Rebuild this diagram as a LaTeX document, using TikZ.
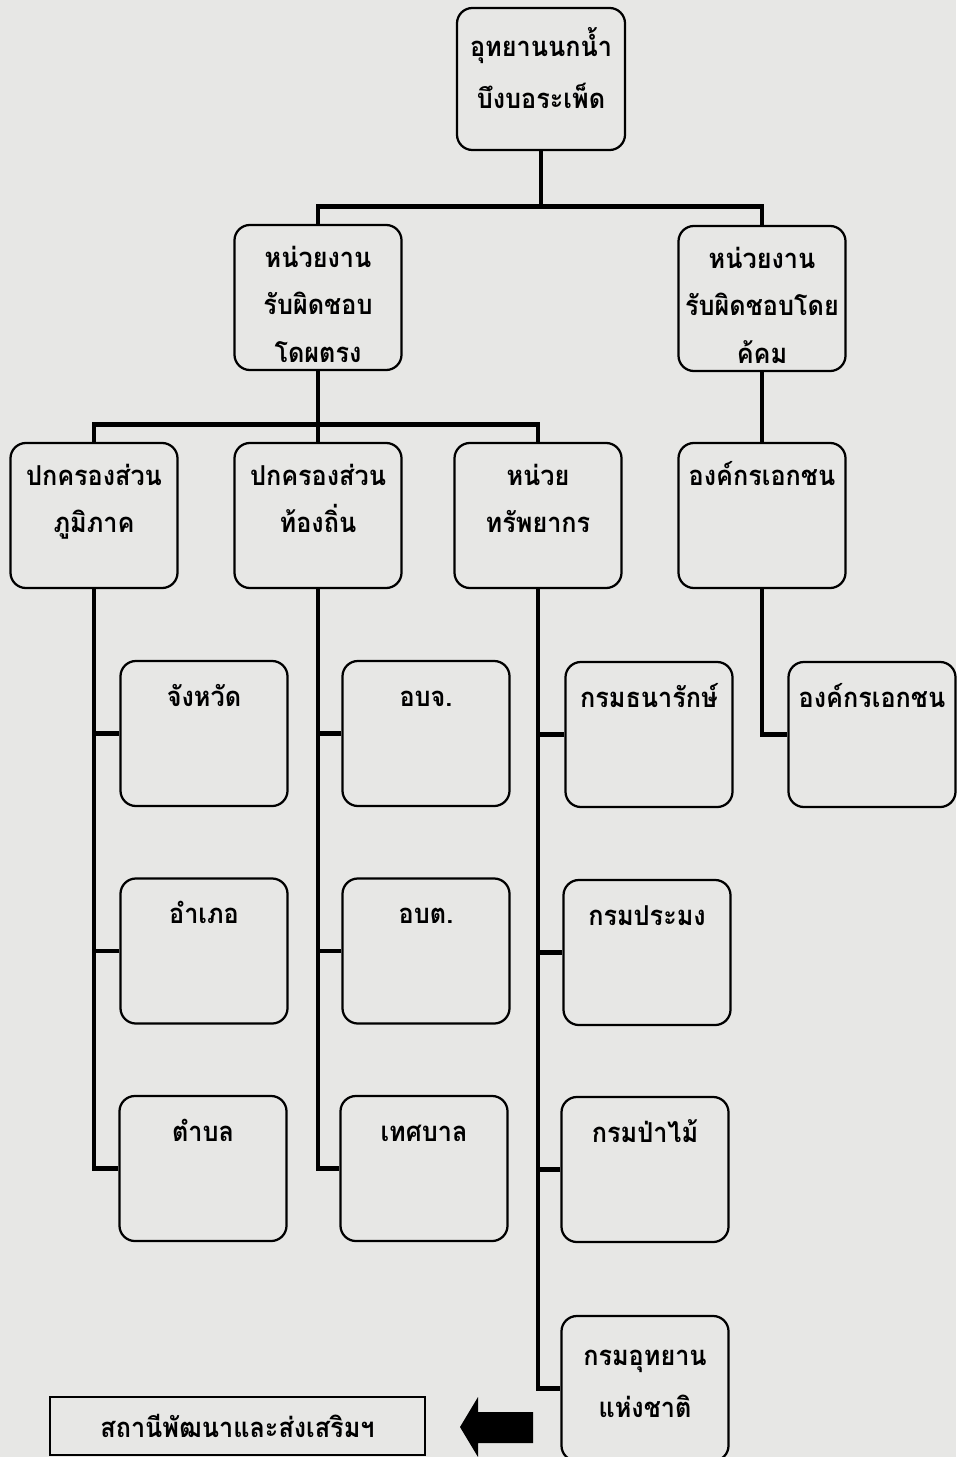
\documentclass[tikz,border=0pt]{standalone}
\usepackage{fontspec}
\setmainfont{Loma}[Script=Thai, FakeStretch=0.92]
\usepackage{tikz}

\definecolor{scanbg}{RGB}{231,231,229}
\newcommand{\lh}{\rule{0pt}{24pt}}
\tikzset{
  unitbox/.style={draw, line width=1.6pt, rounded corners=11pt, fill=scanbg,
    minimum width=4.175cm, minimum height=3.625cm, inner sep=0pt},
  boxtext/.style={anchor=north, align=center, inner sep=0pt,
    font=\bfseries\fontsize{19.5}{34}\selectfont},
  loosetext/.style={boxtext, font=\bfseries\fontsize{19.5}{37}\selectfont},
  link/.style={line width=3.4pt},
}

\begin{document}
\begin{tikzpicture}[x=0.025cm, y=-0.025cm]
            \fill[scanbg] (0,0) rectangle (956,1457);
            \useasboundingbox (0,0) rectangle (956,1457);
            % top
            \node[unitbox, minimum width=4.2cm, minimum height=3.55cm,
              label={[loosetext, yshift=-11pt]north:\lh อุทยานนกน้ำ\\บึงบอระเพ็ด}] (park) at (541,79) {};
            \node[unitbox, label={[boxtext, yshift=-6.6pt]north:\lh หน่วยงาน\\รับผิดชอบ\\โดผตรง}] (direct) at (318,297.5) {};
            \node[unitbox, label={[boxtext, yshift=-6.6pt]north:\lh หน่วยงาน\\รับผิดชอบโดย\\ค้คม}] (indirect) at (762,298.5) {};
            % third row
            \node[unitbox, label={[boxtext, yshift=-6.6pt]north:\lh ปกครองส่วน\\ภูมิภาค}] (region) at (94,515.5) {};
            \node[unitbox, label={[boxtext, yshift=-6.6pt]north:\lh ปกครองส่วน\\ท้องถิ่น}] (local) at (318,515.5) {};
            \node[unitbox, label={[boxtext, yshift=-6.6pt]north:\lh หน่วย\\ทรัพยากร}] (resource) at (538,515.5) {};
            \node[unitbox, label={[boxtext, yshift=-6.6pt]north:\lh องค์กรเอกชน}] (ngo) at (762,515.5) {};
            % lower boxes
            \node[unitbox, label={[boxtext, yshift=-8.8pt]north:\lh จังหวัด}] (changwat) at (204,733.5) {};
            \node[unitbox, label={[boxtext, yshift=-8.8pt]north:\lh อำเภอ}] (amphoe) at (204,951) {};
            \node[unitbox, label={[boxtext, yshift=-8.8pt]north:\lh ตำบล}] (tambon) at (203,1168.5) {};
            \node[unitbox, label={[boxtext, yshift=-8.8pt]north:\lh อบจ.}] (pao) at (426,733.5) {};
            \node[unitbox, label={[boxtext, yshift=-8.8pt]north:\lh อบต.}] (sao) at (426,951) {};
            \node[unitbox, label={[boxtext, yshift=-8.8pt]north:\lh เทศบาล}] (municipal) at (424,1168.5) {};
            \node[unitbox, label={[boxtext, yshift=-8.8pt]north:\lh กรมธนารักษ์}] (treasury) at (649,734.5) {};
            \node[unitbox, label={[boxtext, yshift=-8.8pt]north:\lh กรมประมง}] (fisheries) at (647,952.5) {};
            \node[unitbox, label={[boxtext, yshift=-8.8pt]north:\lh กรมป่าไม้}] (forestry) at (645,1169.5) {};
            \node[unitbox, label={[loosetext, yshift=-11.6pt]north:\lh กรมอุทยาน\\แห่งชาติ}] (natpark) at (645,1388.5) {};
            \node[unitbox, label={[boxtext, yshift=-8.8pt]north:\lh องค์กรเอกชน}] (ngosub) at (872,734.5) {};
            \node[draw, line width=1.4pt, fill=scanbg, minimum width=9.375cm, minimum height=1.45cm,
              font=\bfseries\fontsize{19.5}{34}\selectfont] (station) at (237.5,1426) {สถานีพัฒนาและส่งเสริมฯ};
            % connectors
            \draw[link] (park.south) -- ++(0,55) -| (direct.north);
            \draw[link] (park.south) -- ++(0,55) -| (indirect.north);
            \draw[link] (direct.south) -- ++(0,53) -| (region.north);
            \draw[link] (direct.south) -- ++(0,53) -| (resource.north);
            \draw[link] (direct.south) -- (local.north);
            \draw[link] (indirect.south) -- (ngo.north);
            \draw[link] (region.south) |- (tambon.west);
            \draw[link] (changwat.west) -- (changwat.west -| region.south);
            \draw[link] (amphoe.west) -- (amphoe.west -| region.south);
            \draw[link] (local.south) |- (municipal.west);
            \draw[link] (pao.west) -- (pao.west -| local.south);
            \draw[link] (sao.west) -- (sao.west -| local.south);
            \draw[link] (resource.south) |- (natpark.west);
            \draw[link] (treasury.west) -- (treasury.west -| resource.south);
            \draw[link] (fisheries.west) -- (fisheries.west -| resource.south);
            \draw[link] (forestry.west) -- (forestry.west -| resource.south);
            \draw[link] (ngo.south) |- (ngosub.west);
            % block arrow
            \fill (533,1412) -- (478,1412) -- (478,1397) -- (460,1427) -- (478,1457) -- (478,1443) -- (533,1443) -- cycle;
        \end{tikzpicture}
\end{document}
